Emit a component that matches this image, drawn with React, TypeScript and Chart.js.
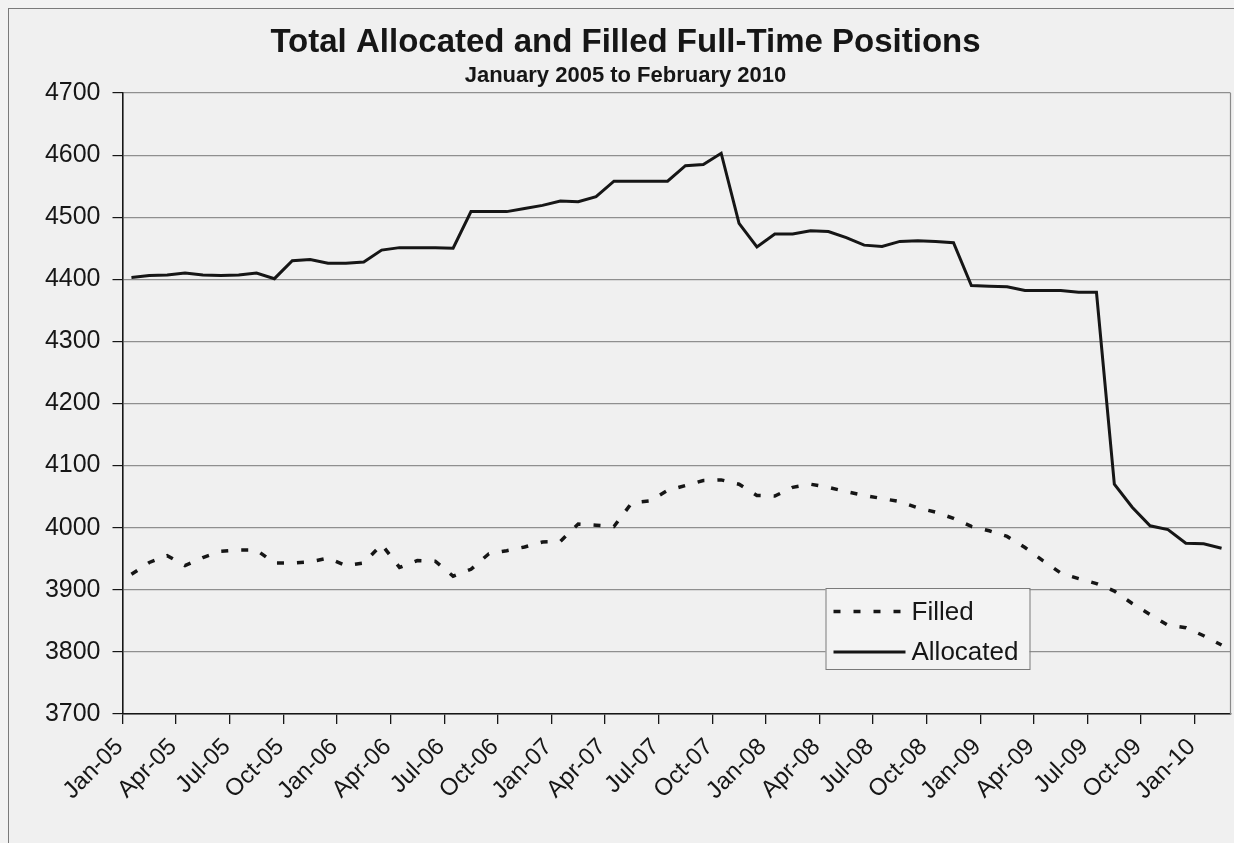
import React, { useEffect, useRef } from 'react';
import { Chart, registerables } from 'chart.js';

Chart.register(...registerables);

const categories: string[] = [
  'Jan-05', 'Feb-05', 'Mar-05', 'Apr-05', 'May-05', 'Jun-05', 'Jul-05', 'Aug-05', 'Sep-05', 'Oct-05', 'Nov-05', 'Dec-05',
  'Jan-06', 'Feb-06', 'Mar-06', 'Apr-06', 'May-06', 'Jun-06', 'Jul-06', 'Aug-06', 'Sep-06', 'Oct-06', 'Nov-06', 'Dec-06',
  'Jan-07', 'Feb-07', 'Mar-07', 'Apr-07', 'May-07', 'Jun-07', 'Jul-07', 'Aug-07', 'Sep-07', 'Oct-07', 'Nov-07', 'Dec-07',
  'Jan-08', 'Feb-08', 'Mar-08', 'Apr-08', 'May-08', 'Jun-08', 'Jul-08', 'Aug-08', 'Sep-08', 'Oct-08', 'Nov-08', 'Dec-08',
  'Jan-09', 'Feb-09', 'Mar-09', 'Apr-09', 'May-09', 'Jun-09', 'Jul-09', 'Aug-09', 'Sep-09', 'Oct-09', 'Nov-09', 'Dec-09',
  'Jan-10', 'Feb-10',
];

const filled: number[] = [
  3925, 3944, 3955, 3939, 3952, 3962, 3964, 3964, 3943, 3943, 3945, 3951,
  3939, 3943, 3973, 3936, 3947, 3946, 3922, 3933, 3958, 3963, 3969, 3977,
  3978, 4006, 4004, 4002, 4040, 4043, 4060, 4068, 4076, 4077, 4070, 4052,
  4051, 4065, 4070, 4065, 4058, 4052, 4047, 4042, 4032, 4025, 4015, 4002,
  3995, 3986, 3968, 3947, 3927, 3918, 3910, 3898, 3878, 3860, 3843, 3839,
  3826, 3811,
];

const allocated: number[] = [
  4403, 4406, 4407, 4410, 4407, 4406, 4407, 4410, 4401, 4430, 4432, 4426,
  4426, 4428, 4447, 4451, 4451, 4451, 4450, 4509, 4509, 4509, 4514, 4519,
  4526, 4525, 4533, 4558, 4558, 4558, 4558, 4583, 4585, 4603, 4490, 4452,
  4473, 4473, 4478, 4477, 4467, 4455, 4453, 4461, 4462, 4461, 4459, 4390,
  4389, 4388, 4382, 4382, 4382, 4379, 4379, 4070, 4033, 4003, 3997, 3975,
  3974, 3967,
];

const yMin = 3700;
const yMax = 4700;
const yStep = 100;

const titleText = 'Total Allocated and Filled Full-Time Positions';
const subtitleText = 'January 2005 to February 2010';
const legendLabels = ['Filled', 'Allocated'];

const FONT = 'Arial, "Liberation Sans", Helvetica, sans-serif';
const INK = '#161616';

const frameAndLegend = {
  id: 'frameAndLegend',
  beforeDatasetsDraw(chart: any) {
    const { ctx, chartArea } = chart;
    ctx.save();
    ctx.strokeStyle = '#8a8a8a';
    ctx.lineWidth = 1.2;
    ctx.beginPath();
    ctx.moveTo(chartArea.right, chartArea.top);
    ctx.lineTo(chartArea.right, chartArea.bottom);
    ctx.stroke();
    ctx.restore();
  },
  afterDatasetsDraw(chart: any) {
    const { ctx, chartArea } = chart;
    const boxW = 204;
    const boxH = 81;
    const right = chartArea.right - 201;
    const left = right - boxW;
    const top = chartArea.top + 495;
    ctx.save();
    ctx.fillStyle = '#f3f3f3';
    ctx.fillRect(left, top, boxW, boxH);
    ctx.strokeStyle = '#7a7a7a';
    ctx.lineWidth = 1;
    ctx.strokeRect(left + 0.5, top + 0.5, boxW, boxH);
    const ds = chart.data.datasets;
    const rows = [top + 23.5, top + 64];
    legendLabels.forEach((label, i) => {
      const d = ds[i];
      const y = rows[i];
      ctx.beginPath();
      ctx.strokeStyle = d.borderColor;
      ctx.lineWidth = d.borderWidth;
      ctx.setLineDash(d.borderDash || []);
      ctx.moveTo(left + 8, y);
      ctx.lineTo(left + 80, y);
      ctx.stroke();
      ctx.setLineDash([]);
      ctx.fillStyle = INK;
      ctx.font = `26px ${FONT}`;
      ctx.textAlign = 'left';
      ctx.textBaseline = 'middle';
      ctx.fillText(label, left + 86, y + 1);
    });
    ctx.restore();
  },
};

export default function App() {
  const canvasRef = useRef<HTMLCanvasElement | null>(null);

  useEffect(() => {
    document.body.style.background = '#f2f2f2';
    const canvas = canvasRef.current;
    if (!canvas) return;
    const chart = new Chart(canvas, {
      type: 'line',
      data: {
        labels: categories,
        datasets: [
          {
            label: legendLabels[0],
            data: filled,
            borderColor: INK,
            borderWidth: 3.5,
            borderDash: [7, 13],
            pointRadius: 0,
            fill: false,
            tension: 0,
          },
          {
            label: legendLabels[1],
            data: allocated,
            borderColor: INK,
            borderWidth: 3,
            pointRadius: 0,
            fill: false,
            tension: 0,
          },
        ],
      },
      options: {
        responsive: false,
        animation: false,
        layout: { padding: { left: 0, right: 9, top: 0, bottom: 0 } },
        plugins: {
          legend: { display: false },
          tooltip: { enabled: false },
          title: {
            display: true,
            text: titleText,
            color: INK,
            font: { family: FONT, size: 33, weight: 'bold', lineHeight: 1.2 },
            padding: { top: 14, bottom: 0 },
          },
          subtitle: {
            display: true,
            text: subtitleText,
            color: INK,
            font: { family: FONT, size: 22, weight: 'bold', lineHeight: 1.2 },
            padding: { top: 0, bottom: 4 },
          },
        },
        scales: {
          x: {
            type: 'category',
            offset: true,
            grid: {
              offset: true,
              drawOnChartArea: false,
              tickLength: 10,
              lineWidth: 1.3,
              color: (c: any) => (c.index % 3 === 0 ? INK : 'rgba(0,0,0,0)'),
            },
            border: { color: INK, width: 1.6 },
            ticks: {
              autoSkip: false,
              minRotation: 45,
              maxRotation: 45,
              padding: 9,
              labelOffset: -12,
              color: INK,
              font: { family: FONT, size: 24 },
              callback: (_v: any, i: number) => (i % 3 === 0 ? categories[i] : ''),
            },
            afterFit: (s: any) => {
              s.height = 143;
            },
          },
          y: {
            min: yMin,
            max: yMax,
            grid: {
              color: '#8f8f8f',
              lineWidth: 1.2,
              tickLength: 10,
              tickColor: INK,
            },
            border: { color: INK, width: 1.6 },
            ticks: {
              stepSize: yStep,
              padding: 12,
              color: INK,
              font: { family: FONT, size: 25 },
              callback: (v: any) => String(v),
            },
            afterFit: (s: any) => {
              s.width = 113.5;
            },
          },
        },
      },
      plugins: [frameAndLegend],
    });
    return () => chart.destroy();
  }, []);

  return (
    <div
      style={{
        position: 'fixed',
        left: 8,
        top: 8,
        width: 1242,
        height: 848,
        border: '1px solid #7a7a7a',
        background: '#f0f0f0',
      }}
    >
      <canvas ref={canvasRef} width={1242} height={848} style={{ display: 'block' }} />
    </div>
  );
}
